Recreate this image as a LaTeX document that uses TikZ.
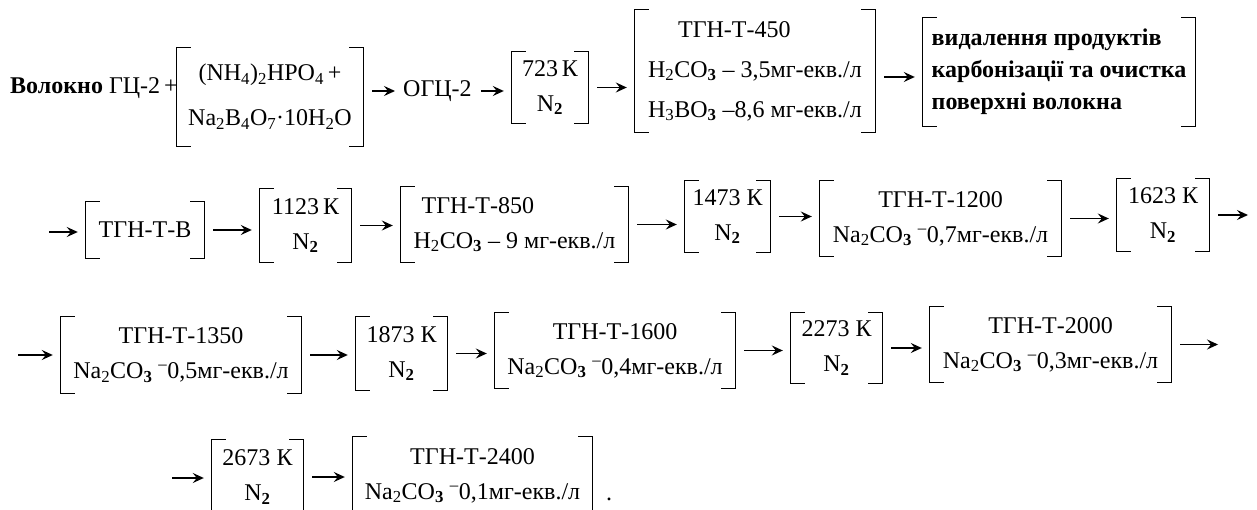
\documentclass[tikz,border=0pt]{standalone}
\usepackage{fontspec}
\setmainfont{Liberation Serif}
\usetikzlibrary{arrows.meta}

\newcommand{\sbs}[1]{\textsubscript{#1}}
\newcommand{\sbb}[1]{\textsubscript{\textbf{#1}}}
\newcommand{\mgeq}{мг-екв./л}
\newcommand{\updash}{\textsuperscript{–}}
\newcommand{\mainfs}{\fontsize{24pt}{35pt}\selectfont}
\newcommand{\bracketpair}[1]{%
  \draw[brk] ([xshift=14pt]#1.north west) -- (#1.north west) -- (#1.south west) -- ([xshift=14pt]#1.south west);
  \draw[brk] ([xshift=-14pt]#1.north east) -- (#1.north east) -- (#1.south east) -- ([xshift=-14pt]#1.south east);}

\begin{document}
\begin{tikzpicture}[x=1pt, y=-1pt,
	grp/.style = {inner xsep=4pt, inner ysep=0pt, align=center, font=\mainfs},
	txt/.style = {inner sep=0pt, font=\mainfs},
	brk/.style = {line width=1.3pt},
	flow/.style = {-{Stealth[length=11pt, width=10pt, inset=4pt]}, line width=1.6pt, shorten <=9pt, shorten >=8pt}
	]
	\clip (0,0) rectangle (1257,510);

	% row 1
	\node[txt, anchor=west] (fibre) at (10,88) {\textbf{Волокно} ГЦ-2\,+};
	\node[grp, minimum width=186pt, minimum height=98pt, font={\fontsize{24pt}{45pt}\selectfont}] (A) at (270,97) {(NH\sbs{4})\sbs{2}HPO\sbs{4}\,+\\Na\sbs{2}B\sbs{4}O\sbs{7}·10H\sbs{2}O};
	\node[txt, anchor=west] (ogc) at (403,91) {ОГЦ-2};
	\node[grp, minimum width=76pt, minimum height=71pt] (B) at (550,87.5) {723\,К\\N\sbb{2}};
	\node[grp, minimum width=240pt, minimum height=122pt, align=left, font={\fontsize{24pt}{40pt}\selectfont}] (C) at (755,71) {\hspace*{30pt}ТГН-Т-450\\H\sbs{2}CO\sbb{3} – 3,5\mgeq\\H\sbs{3}BO\sbb{3} –8,6 \mgeq};
	\node[grp, minimum width=272pt, minimum height=108pt, align=left, font={\fontsize{24pt}{32pt}\selectfont\bfseries}] (D) at (1059,72) {видалення продуктів\\карбонізації та очистка\\поверхні волокна};

	% row 2
	\coordinate (r2in) at (40,232);
	\node[grp, minimum width=118pt, minimum height=56pt] (E) at (145,230) {ТГН-Т-В};
	\node[grp, minimum width=91pt, minimum height=73pt] (F) at (305.5,225.5) {1123\,К\\N\sbb{2}};
	\node[grp, minimum width=227pt, minimum height=75pt, align=left] (G) at (514.5,224.5) {\hspace*{8pt}ТГН-Т-850\\H\sbs{2}CO\sbb{3} – 9 \mgeq};
	\node[grp, minimum width=85pt, minimum height=71pt] (H) at (727.5,216.5) {1473 К\\N\sbb{2}};
	\node[grp, minimum width=241pt, minimum height=75pt] (I) at (940.5,218.5) {ТГН-Т-1200\\Na\sbs{2}CO\sbb{3} \updash0,7\mgeq};
	\node[grp, minimum width=92pt, minimum height=72pt] (J) at (1163,215) {1623 К\\N\sbb{2}};
	\coordinate (r2out) at (1256,215);

	% row 3
	\coordinate (r3in) at (9,355);
	\node[grp, minimum width=240pt, minimum height=76pt] (K) at (181,355) {ТГН-Т-1350\\Na\sbs{2}CO\sbb{3} \updash0,5\mgeq};
	\node[grp, minimum width=91pt, minimum height=73pt] (L) at (401.5,353.5) {1873 К\\N\sbb{2}};
	\node[grp, minimum width=240pt, minimum height=75pt] (M) at (615,350.5) {ТГН-Т-1600\\Na\sbs{2}CO\sbb{3} \updash0,4\mgeq};
	\node[grp, minimum width=91pt, minimum height=70pt] (N) at (836.5,348) {2273 К\\N\sbb{2}};
	\node[grp, minimum width=241pt, minimum height=75pt] (O) at (1050.5,344.5) {ТГН-Т-2000\\Na\sbs{2}CO\sbb{3} \updash0,3\mgeq};
	\coordinate (r3out) at (1226,345);

	% row 4
	\coordinate (r4in) at (163,478);
	\node[grp, minimum width=91pt, minimum height=74pt] (P) at (257.5,477) {2673 К\\N\sbb{2}};
	\node[grp, minimum width=239pt, minimum height=77pt] (Q) at (472.5,475.5) {ТГН-Т-2400\\Na\sbs{2}CO\sbb{3} \updash0,1\mgeq};
	\node[txt, anchor=base west] (stop) at (606,500) {.};

	\foreach \bx in {A,B,C,D,E,F,G,H,I,J,K,L,M,N,O,P,Q} {\bracketpair{\bx}}

	% arrows
	\draw[flow] (A.east |- ogc.west) -- (ogc.west);
	\draw[flow] (ogc.east) -- (ogc.east -| B.west);
	\draw[flow] (B.east) -- (B.east -| C.west);
	\draw[flow] ([yshift=-6pt]C.east) -- ([yshift=-6pt]C.east -| D.west);
	\draw[flow] (r2in) -- (r2in -| E.west);
	\draw[flow] (J.east) -- (J.east -| r2out);
	\draw[flow] (r3in) -- (r3in -| K.west);
	\draw[flow] (O.east) -- (O.east -| r3out);
	\draw[flow] (r4in) -- (r4in -| P.west);
	\foreach \u/\v in {E/F,F/G,G/H,H/I,I/J,K/L,L/M,M/N,N/O,P/Q}
		\draw[flow] (\u.east) -- (\u.east -| \v.west);
\end{tikzpicture}
\end{document}
